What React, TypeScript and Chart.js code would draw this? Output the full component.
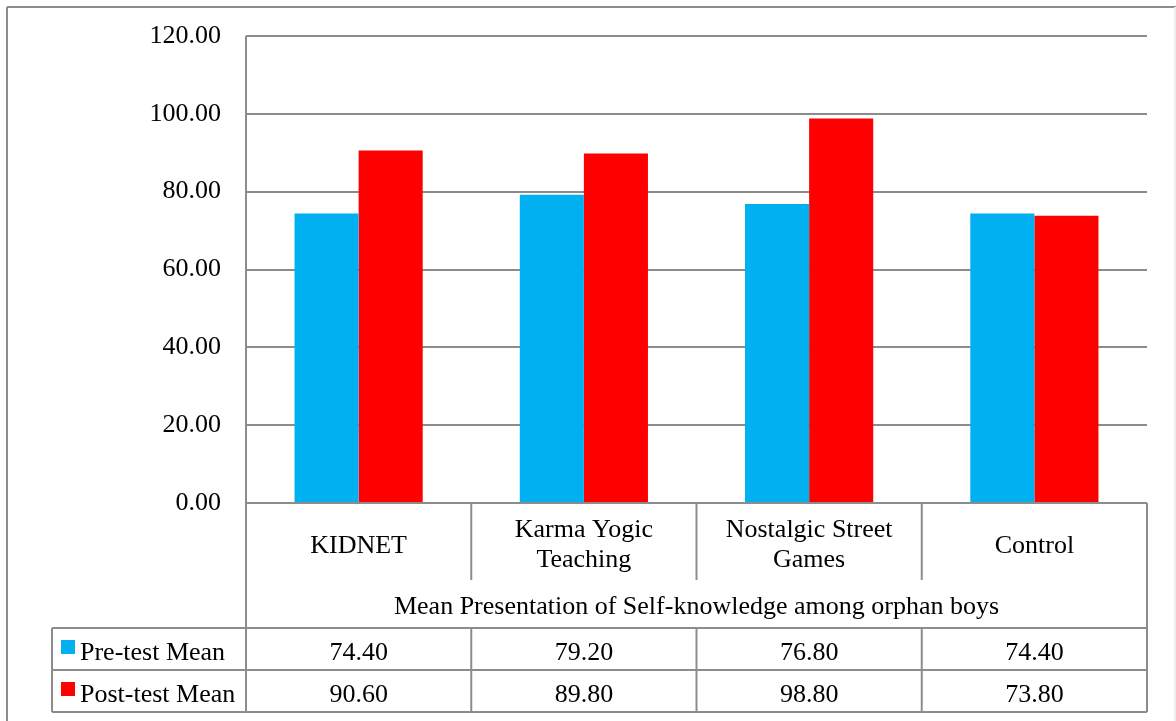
import React, { useEffect, useRef } from "react";
import { Chart, registerables } from "chart.js";

Chart.register(...registerables);

const categories: string[][] = [["KIDNET"], ["Karma Yogic", "Teaching"], ["Nostalgic Street", "Games"], ["Control"]];
const preTest: number[] = [74.4, 79.2, 76.8, 74.4];
const postTest: number[] = [90.6, 89.8, 98.8, 73.8];
const seriesNames: string[] = ["Pre-test Mean", "Post-test Mean"];
const seriesColors: string[] = ["#00B0F0", "#FF0000"];
const axisTitle = "Mean Presentation of Self-knowledge among orphan boys";
const yTicks = { min: 0, max: 120, step: 20 };

const FONT_FAMILY = "'Liberation Serif', 'Times New Roman', serif";
const FONT_SIZE = 26;
const LINE = "#8c8c8c";

const tablePlugin = {
  id: "dataTable",
  afterDraw(chart: any) {
    const { ctx, chartArea, scales } = chart;
    const x = scales.x;
    const y = scales.y;
    const left = chartArea.left;
    const right = chartArea.right;
    const bottom = Math.round(chartArea.bottom);
    const top = chartArea.top;
    const n = categories.length;
    const centers = categories.map((_, i) => x.getPixelForValue(i));
    const bounds: number[] = [];
    for (let i = 0; i < n - 1; i++) bounds.push((centers[i] + centers[i + 1]) / 2);

    const labelRowBottom = bottom + 77;
    const row1Top = bottom + 125;
    const row2Top = bottom + 167;
    const tableBottom = bottom + 209;
    const tableLeft = 52;

    ctx.save();
    ctx.strokeStyle = LINE;
    ctx.lineWidth = 2;
    const line = (x1: number, y1: number, x2: number, y2: number) => {
      ctx.beginPath();
      ctx.moveTo(x1, y1);
      ctx.lineTo(x2, y2);
      ctx.stroke();
    };
    line(left, top, left, tableBottom);
    line(right, bottom, right, tableBottom);
    bounds.forEach((b) => line(b, bottom, b, labelRowBottom));
    line(tableLeft, row1Top, right, row1Top);
    line(tableLeft, row2Top, right, row2Top);
    line(tableLeft, tableBottom, right, tableBottom);
    line(tableLeft, row1Top, tableLeft, tableBottom);
    bounds.forEach((b) => line(b, row1Top, b, tableBottom));

    // outer border
    line(7, 7, 1176, 7);
    line(7, 7, 7, 721);
    ctx.strokeStyle = "#eeeeee";
    line(1175, 7, 1175, 721);

    ctx.fillStyle = "#000";
    ctx.font = `${FONT_SIZE}px ${FONT_FAMILY}`;

    // y tick labels
    ctx.textAlign = "right";
    ctx.textBaseline = "middle";
    y.ticks.forEach((t: any) => {
      ctx.fillText(Number(t.value).toFixed(2), left - 25, y.getPixelForValue(t.value));
    });

    ctx.textAlign = "center";
    ctx.textBaseline = "alphabetic";
    categories.forEach((lines, i) => {
      if (lines.length === 1) {
        ctx.fillText(lines[0], centers[i], bottom + 50);
      } else {
        lines.forEach((t, k) => ctx.fillText(t, centers[i], bottom + 34 + k * 30));
      }
    });
    ctx.fillText(axisTitle, (left + right) / 2, bottom + 111);

    const rows = [preTest, postTest];
    const rowBase = [bottom + 157, bottom + 199];
    rows.forEach((vals, r) => {
      ctx.textAlign = "center";
      vals.forEach((v, i) => ctx.fillText(v.toFixed(2), centers[i], rowBase[r]));
      ctx.fillStyle = seriesColors[r];
      ctx.fillRect(61, rowBase[r] - 20, 14, 14);
      ctx.fillStyle = "#000";
      ctx.textAlign = "left";
      ctx.fillText(seriesNames[r], 80, rowBase[r]);
    });
    ctx.restore();
  },
};

export default function App() {
  const ref = useRef<HTMLCanvasElement | null>(null);
  useEffect(() => {
    document.body.style.margin = "0";
    const canvas = ref.current!;
    const chart = new Chart(canvas, {
      type: "bar",
      data: {
        labels: categories.map((c) => c.join(" ")),
        datasets: [
          { label: seriesNames[0], data: preTest, backgroundColor: seriesColors[0], borderWidth: 0 },
          { label: seriesNames[1], data: postTest, backgroundColor: seriesColors[1], borderWidth: 0 },
        ],
      },
      options: {
        responsive: false,
        animation: false,
        devicePixelRatio: 1,
        layout: { padding: { top: 36, right: 29, bottom: 218, left: 0 } },
        plugins: { legend: { display: false }, tooltip: { enabled: false } },
        datasets: { bar: { categoryPercentage: 0.569, barPercentage: 1 } },
        scales: {
          x: { display: false },
          y: {
            min: yTicks.min,
            max: yTicks.max,
            afterFit: (scale: any) => {
              scale.width = 246;
            },
            ticks: {
              stepSize: yTicks.step,
              display: false,
            },
            grid: { color: LINE, lineWidth: 2, drawTicks: false },
            border: { display: false },
          },
        },
      },
      plugins: [tablePlugin],
    });
    return () => chart.destroy();
  }, []);
  return (
    <div style={{ width: 1176, height: 721, overflow: "hidden" }}>
      <canvas ref={ref} width={1176} height={721} style={{ display: "block" }} />
    </div>
  );
}
